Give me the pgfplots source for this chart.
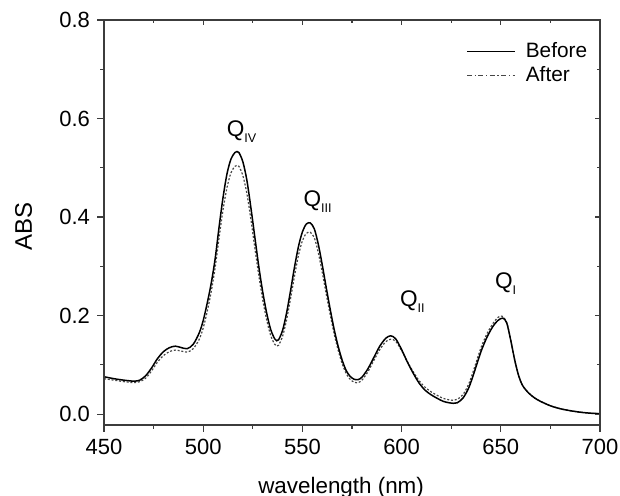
\documentclass[border=0pt]{standalone}
\usepackage{pgfplots}
\usepackage{pgfplotstable}
\pgfplotsset{compat=1.18}
\usepackage{fontspec}
\setmainfont{Liberation Sans}

\definecolor{axisgray}{RGB}{60,60,60}
\definecolor{aftergray}{RGB}{70,70,70}

% Absorbance spectra (wavelength in nm, absorbance)
\pgfplotstableread{
wl abs
450 0.076
455 0.072
460 0.069
465 0.067
468 0.069
471 0.078
474 0.094
477 0.113
480 0.127
483 0.135
486 0.138
489 0.135
492 0.133
495 0.142
498 0.165
500 0.190
502 0.225
504 0.265
506 0.315
508 0.380
510 0.440
512 0.488
514 0.518
516 0.531
517 0.533
518 0.531
520 0.512
522 0.475
524 0.420
526 0.360
528 0.300
530 0.248
532 0.205
534 0.172
536 0.153
537 0.149
538 0.151
540 0.170
542 0.205
544 0.250
546 0.298
548 0.340
550 0.370
552 0.386
554 0.388
556 0.376
558 0.345
560 0.303
562 0.257
564 0.213
566 0.172
568 0.138
570 0.110
572 0.089
574 0.077
576 0.071
578 0.070
580 0.075
583 0.092
586 0.115
589 0.138
592 0.154
594.5 0.159
597 0.153
600 0.131
603 0.105
606 0.082
609 0.062
612 0.048
615 0.039
618 0.032
621 0.026
624 0.023
626 0.022
628 0.023
631 0.033
634 0.055
637 0.090
640 0.127
643 0.156
646 0.178
648.5 0.190
651 0.195
653 0.185
655 0.150
657 0.110
659 0.078
661 0.058
664 0.043
667 0.033
670 0.026
675 0.017
680 0.011
685 0.007
690 0.004
695 0.002
700 0.001
}\beforedata

\pgfplotstableread{
wl abs
450 0.072
455 0.069
460 0.066
465 0.064
468 0.066
471 0.073
474 0.088
477 0.106
480 0.119
483 0.127
486 0.130
489 0.128
492 0.126
495 0.133
498 0.152
500 0.175
502 0.208
504 0.248
506 0.297
508 0.358
510 0.415
512 0.460
514 0.490
516 0.503
517 0.505
518 0.503
520 0.484
522 0.448
524 0.396
526 0.338
528 0.282
530 0.232
532 0.191
534 0.160
536 0.142
537 0.138
538 0.140
540 0.158
542 0.191
544 0.234
546 0.280
548 0.322
550 0.352
552 0.367
554 0.369
556 0.358
558 0.328
560 0.288
562 0.244
564 0.202
566 0.163
568 0.130
570 0.103
572 0.083
574 0.071
576 0.065
578 0.064
580 0.069
583 0.086
586 0.109
589 0.131
592 0.147
594.5 0.152
597 0.148
600 0.129
603 0.106
606 0.085
609 0.067
612 0.054
615 0.045
618 0.038
621 0.032
624 0.029
626 0.028
628 0.030
631 0.040
634 0.063
637 0.098
640 0.135
643 0.163
646 0.184
648.5 0.196
650.5 0.199
653 0.186
655 0.150
657 0.110
659 0.078
661 0.058
664 0.043
667 0.033
670 0.026
675 0.017
680 0.011
685 0.007
690 0.004
695 0.002
700 0.001
}\afterdata

\newcommand{\qlab}[1]{\fontsize{11.3}{12}\selectfont Q\raisebox{-3pt}{\fontsize{6.3}{6}\selectfont #1}}

\begin{document}
\begin{tikzpicture}
\pgfplotsset{
  common/.style={
    scale only axis,
    width=248pt, height=202.5pt,
    xmin=450, xmax=700,
    ymin=-0.022, ymax=0.8,
    xtick={450,500,...,700},
    ytick={0,0.2,...,0.8},
    minor x tick num=1,
    minor y tick num=1,
    axis line style={axisgray, line width=0.6pt},
    every tick/.style={axisgray, line width=0.6pt},
  }
}
\begin{axis}[
  common,
  tick pos=left,
  tick align=outside,
  major tick length=3.5pt,
  minor tick length=2pt,
  /pgf/number format/assume math mode=true,
  tick label style={font=\fontsize{11}{13}\selectfont},
  yticklabel style={/pgf/number format/.cd, fixed, fixed zerofill, precision=1},
  xticklabel style={/pgf/number format/1000 sep={}},
  xlabel={wavelength (nm)},
  ylabel={ABS},
  xlabel style={font=\fontsize{11.2}{13}\selectfont,
    at={(axis description cs:0.478,0)}, anchor=center, yshift=-31.5pt},
  ylabel style={font=\fontsize{12}{14}\selectfont,
    at={(axis description cs:-0.162,0.49)}, anchor=center},
  legend style={draw=none, fill=none, at={(rel axis cs:0.995,0.965)}, anchor=north east,
    font=\fontsize{10.4}{12}\selectfont, row sep=-1pt, column sep=3pt,
    legend cell align=left},
  legend image code/.code={\draw[#1] (0pt,0pt) -- (24pt,0pt);},
]
\addplot[black, line width=0.75pt] coordinates {(0,0)};
\addlegendentry{Before}
\addplot[aftergray, line width=0.6pt, dash pattern=on 2.5pt off 1.3pt on 0.6pt off 1.3pt] coordinates {(0,0)};
\addlegendentry{After}

\addplot[aftergray, line width=0.6pt, smooth, dash pattern=on 1pt off 0.9pt, forget plot] table[x=wl, y=abs] {\afterdata};
\addplot[black, line width=0.75pt, smooth, forget plot] table[x=wl, y=abs] {\beforedata};

\node[anchor=base west, inner sep=0pt] at (axis cs:511.7,0.564) {\qlab{IV}};
\node[anchor=base west, inner sep=0pt] at (axis cs:550.4,0.422) {\qlab{III}};
\node[anchor=base west, inner sep=0pt] at (axis cs:599.0,0.218) {\qlab{II}};
\node[anchor=base west, inner sep=0pt] at (axis cs:646.9,0.255) {\qlab{I}};
\end{axis}
\begin{axis}[
  common,
  tick pos=right,
  tick align=inside,
  major tick length=2.5pt,
  minor tick length=1.5pt,
  xticklabels={}, yticklabels={},
]
\end{axis}
\pgfresetboundingbox
\path (-52pt,-35.5pt) rectangle (258pt,212.5pt);
\end{tikzpicture}
\end{document}
